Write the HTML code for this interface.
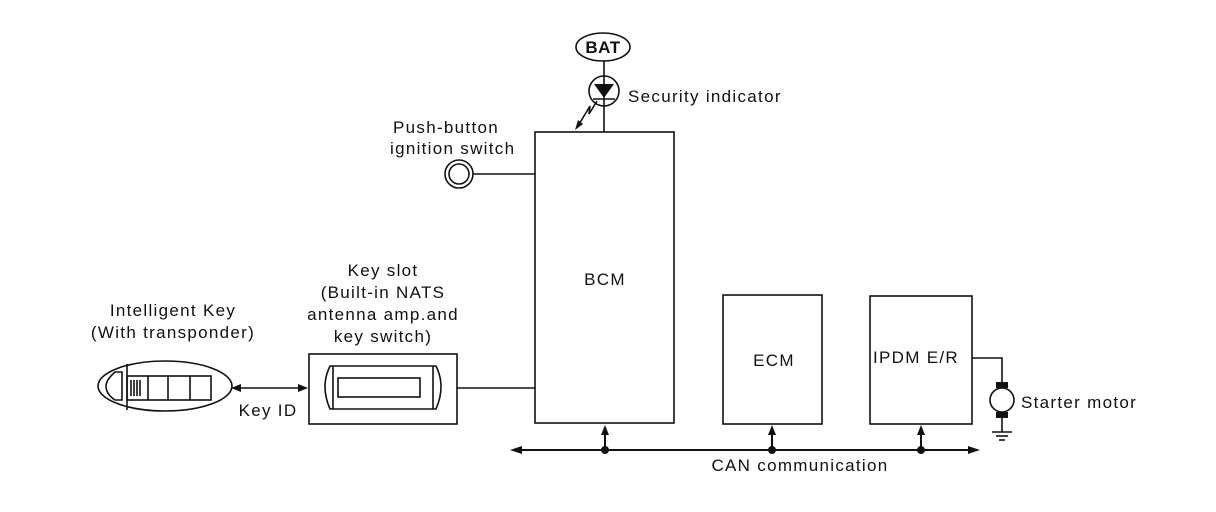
<!DOCTYPE html>
<html><head><style>
html,body{margin:0;padding:0;background:#fff;}
svg{display:block;}
text{font-family:"Liberation Sans",sans-serif;font-size:17px;letter-spacing:1.3px;fill:#111;}
</style></head><body>
<svg width="1216" height="512" viewBox="0 0 1216 512" xmlns="http://www.w3.org/2000/svg">
<g fill="none" stroke="#111" stroke-width="1.6">
<rect x="535" y="132" width="139" height="291"/>
<rect x="723" y="295" width="99" height="129"/>
<rect x="870" y="296" width="102" height="128"/>
<ellipse cx="603" cy="47" rx="27" ry="14"/>
<line x1="604" y1="61" x2="604" y2="132"/>
<circle cx="604" cy="91" r="15"/>
<line x1="593" y1="99" x2="615" y2="99"/>
<polyline points="597,101 589,114 590,106 578,126"/>
<circle cx="459" cy="174" r="14"/>
<circle cx="459" cy="174" r="10"/>
<line x1="473" y1="174" x2="535" y2="174"/>
<ellipse cx="165" cy="386" rx="67" ry="25"/>
<line x1="127" y1="364" x2="127" y2="410"/>
<path d="M122,372 L115,372 Q106,380 106,386 Q106,394 115,400 L122,400 Z"/>
<rect x="127" y="376" width="84" height="24"/>
<line x1="148" y1="376" x2="148" y2="400"/>
<line x1="168" y1="376" x2="168" y2="400"/>
<line x1="190" y1="376" x2="190" y2="400"/>
<line x1="131" y1="380" x2="131" y2="396"/>
<line x1="134" y1="380" x2="134" y2="396"/>
<line x1="137" y1="380" x2="137" y2="396"/>
<line x1="140" y1="380" x2="140" y2="396"/>
<line x1="234" y1="388" x2="306" y2="388"/>
<rect x="309" y="354" width="148" height="70"/>
<path d="M330,366 L436,366 Q446,386 436,409 L330,409 Q320,386 330,366 Z"/>
<line x1="333" y1="366" x2="333" y2="409"/>
<line x1="433" y1="366" x2="433" y2="409"/>
<rect x="338" y="378" width="82" height="19"/>
<line x1="457" y1="388" x2="535" y2="388"/>
<line x1="515" y1="450" x2="975" y2="450" stroke-width="2"/>
<line x1="605" y1="450" x2="605" y2="432" stroke-width="2"/>
<line x1="772" y1="450" x2="772" y2="432" stroke-width="2"/>
<line x1="921" y1="450" x2="921" y2="432" stroke-width="2"/>
<polyline points="972,358 1002,358 1002,388"/>
<circle cx="1002" cy="400" r="12"/>
<line x1="1002" y1="412" x2="1002" y2="432"/>
<line x1="992" y1="432" x2="1012" y2="432"/>
<line x1="996" y1="436" x2="1008" y2="436"/>
<line x1="999" y1="440" x2="1005" y2="440"/>
</g>
<g fill="#111">
<polygon points="594,84 614,84 604,98"/>
<polygon points="575,130 578,120 583,124"/>
<polygon points="231,388 241,384 241,392"/>
<polygon points="308,388 298,384 298,392"/>
<polygon points="510,450 522,446 522,454"/>
<polygon points="980,450 968,446 968,454"/>
<polygon points="605,425 601,435 609,435"/>
<polygon points="772,425 768,435 776,435"/>
<polygon points="921,425 917,435 925,435"/>
<circle cx="605" cy="450" r="4"/>
<circle cx="772" cy="450" r="4"/>
<circle cx="921" cy="450" r="4"/>
<rect x="996" y="382" width="12" height="6"/>
<rect x="996" y="412" width="12" height="6"/>
</g>
<text x="603" y="53" text-anchor="middle" font-weight="bold" style="letter-spacing:0.5px">BAT</text>
<text x="628" y="102">Security indicator</text>
<text x="393" y="133">Push-button</text>
<text x="390" y="154">ignition switch</text>
<text x="605" y="285" text-anchor="middle">BCM</text>
<text x="774" y="366" text-anchor="middle">ECM</text>
<text x="873" y="363">IPDM E/R</text>
<text x="1021" y="408">Starter motor</text>
<text x="800" y="471" text-anchor="middle">CAN communication</text>
<text x="268" y="416" text-anchor="middle">Key ID</text>
<text x="173" y="316" text-anchor="middle">Intelligent Key</text>
<text x="173" y="338" text-anchor="middle">(With transponder)</text>
<text x="383" y="276" text-anchor="middle">Key slot</text>
<text x="383" y="298" text-anchor="middle">(Built-in NATS</text>
<text x="383" y="320" text-anchor="middle">antenna amp.and</text>
<text x="383" y="342" text-anchor="middle">key switch)</text>
</svg>
</body></html>
